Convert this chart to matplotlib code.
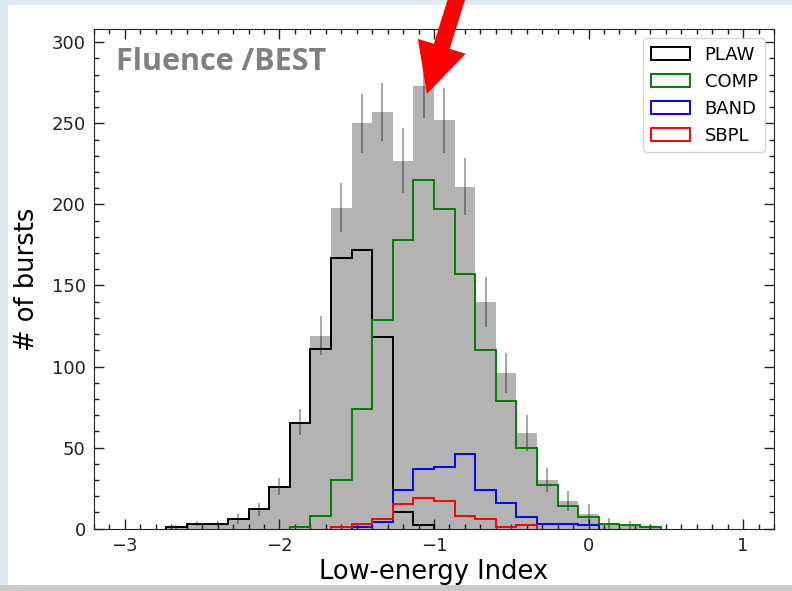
#!/usr/bin/env python3
"""
Low-energy index distribution (fluence spectra, BEST model), split by
the best-fit spectral model, with the total as a grey filled histogram.
Writes out.png.
"""

import numpy as np
import matplotlib
matplotlib.use("Agg")
import matplotlib.pyplot as plt
from matplotlib.patches import FancyArrowPatch, Rectangle, Patch
from matplotlib.ticker import MultipleLocator

# 30 bins of width 4/30 between -3 and 1
bin_edges = np.linspace(-3.0, 1.0, 31)

# counts per bin
plaw = [0, 0, 1, 3, 3, 6, 12, 26, 65, 111, 167, 172, 118, 10, 2,
        0, 0, 0, 0, 0, 0, 0, 0, 0, 0, 0, 0, 0, 0, 0]
comp = [0, 0, 0, 0, 0, 0, 0, 0, 1, 8, 30, 74, 129, 178, 215,
        197, 157, 110, 79, 50, 27, 14, 7, 3, 2, 1, 0, 0, 0, 0]
band = [0, 0, 0, 0, 0, 0, 0, 0, 0, 0, 0, 1, 4, 24, 37,
        38, 46, 24, 16, 7, 3, 3, 2, 0, 0, 0, 0, 0, 0, 0]
sbpl = [0, 0, 0, 0, 0, 0, 0, 0, 0, 0, 1, 3, 6, 15, 19,
        17, 8, 6, 1, 2, 0, 0, 0, 0, 0, 0, 0, 0, 0, 0]

# half-length of the error bar on the total, per bin
total_err = [0, 0, 1, 1.5, 1.5, 3, 4, 5, 8, 12, 15, 18, 18, 20, 20,
             20, 17.5, 15.5, 12.5, 11, 7.5, 6, 6, 3.5, 3, 1, 0, 0, 0, 0]

models = ["PLAW", "COMP", "BAND", "SBPL"]
model_counts = [plaw, comp, band, sbpl]
model_colors = ["k", "g", "b", "r"]


def nonzero_slice(counts):
    idx = np.nonzero(counts)[0]
    return slice(idx[0], idx[-1] + 1)


def main():
    fig = plt.figure(figsize=(7.92, 5.91), dpi=100)

    # slide background around the pasted figure
    fig.add_artist(Rectangle((0, 0), 8 / 792, 1, transform=fig.transFigure,
                             facecolor="#dfeaf5", edgecolor="none", zorder=-5))
    fig.add_artist(Rectangle((0, 1 - 5 / 591), 1, 5 / 591, transform=fig.transFigure,
                             facecolor="#dfeaf5", edgecolor="none", zorder=-5))
    fig.add_artist(Rectangle((0, 0), 1, 6 / 591, transform=fig.transFigure,
                             facecolor="#c9c9c9", edgecolor="none", zorder=-5))

    ax = fig.add_axes([94 / 792, 1 - 528.7 / 591, 680 / 792, 499.4 / 591])

    total = np.sum(np.array(model_counts), axis=0)
    centers = 0.5 * (bin_edges[:-1] + bin_edges[1:])

    s = nonzero_slice(total)
    ax.stairs(total[s], bin_edges[s.start:s.stop + 1], fill=True,
              color="0.7", linewidth=0, zorder=1)

    err = np.array(total_err, dtype=float)
    mask = err > 0
    ax.errorbar(centers[mask], total[mask], yerr=err[mask], fmt="none",
                ecolor="k", alpha=0.35, elinewidth=1.4, capsize=0, zorder=2)

    handles = []
    for name, counts, color in zip(models, model_counts, model_colors):
        counts = np.array(counts)
        s = nonzero_slice(counts)
        ax.stairs(counts[s], bin_edges[s.start:s.stop + 1], fill=False,
                  edgecolor=color, linewidth=1.4, zorder=3)
        handles.append(Patch(facecolor="none", edgecolor=color, linewidth=1.4, label=name))

    ax.set_xlim(-3.2, 1.2)
    ax.set_ylim(0, 308)

    ax.xaxis.set_major_locator(MultipleLocator(1))
    ax.xaxis.set_minor_locator(MultipleLocator(0.1))
    ax.yaxis.set_major_locator(MultipleLocator(50))
    ax.yaxis.set_minor_locator(MultipleLocator(10))
    ax.tick_params(which="both", direction="in", top=True, right=True,
                   labelsize=13, pad=6, colors="#222222")
    ax.tick_params(which="major", length=7, width=1)
    ax.tick_params(which="minor", length=3.5, width=1)
    for sp in ax.spines.values():
        sp.set_color("#222222")

    ax.set_xlabel("Low-energy Index", fontsize=18.5, labelpad=3)
    ax.set_ylabel("# of bursts", fontsize=18.5, labelpad=8)

    ax.legend(handles=handles, loc="upper right", fontsize=13, handlelength=2.2)

    ax.text(0.032, 0.9185, "Fluence /BEST", transform=ax.transAxes,
            fontsize=22, fontweight="bold", color="#808080",
            family=["Open Sans", "DejaVu Sans"], va="baseline", ha="left")

    # big red pointer added on the slide
    arrow = FancyArrowPatch((460 / 792, 1 + 12 / 591), (426 / 792, 1 - 96.7 / 591),
                            transform=fig.transFigure,
                            arrowstyle="simple,head_length=0.9,head_width=0.9,tail_width=0.3",
                            mutation_scale=40, color="red", linewidth=0, zorder=10)
    fig.add_artist(arrow)

    fig.savefig("out.png", dpi=100)


if __name__ == "__main__":
    main()
